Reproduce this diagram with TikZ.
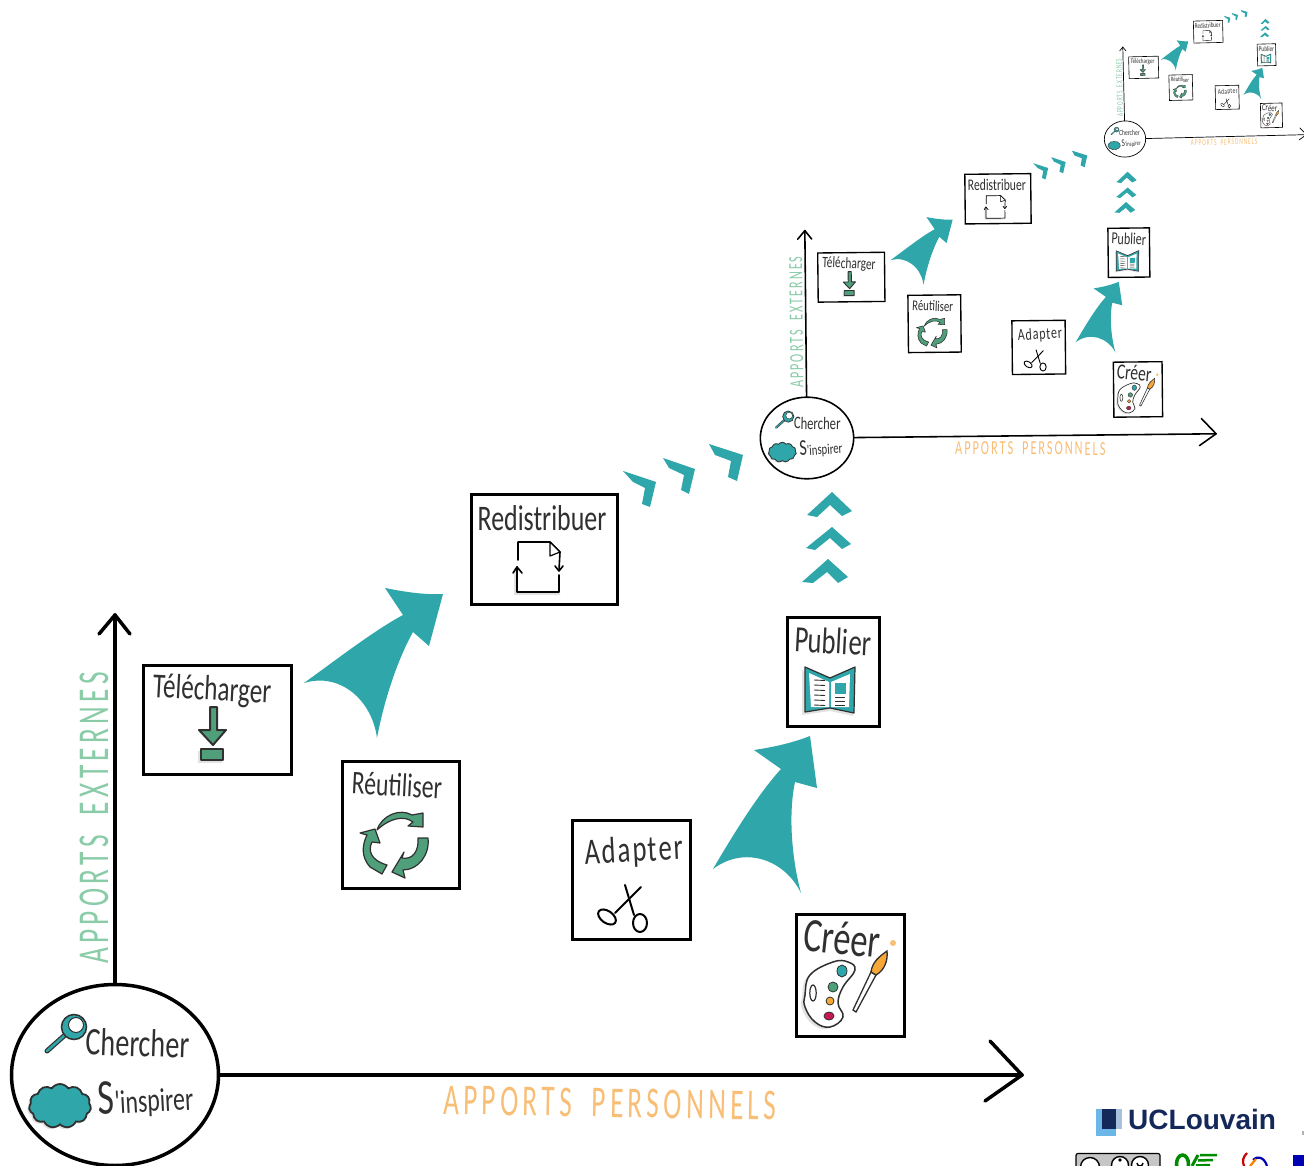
\documentclass[tikz,border=0pt]{standalone}
\usepackage{fontspec}
\usetikzlibrary{shapes.geometric,shapes.symbols}
\newfontfamily\hand[FakeStretch=0.72]{Carlito}
\newfontfamily\handwide[FakeStretch=0.62,LetterSpace=10]{Carlito}
\newfontfamily\logofont{Liberation Sans}
\definecolor{ink}{HTML}{303030}
\definecolor{tealA}{HTML}{2FA6A9}
\definecolor{greenA}{HTML}{4F9F7B}
\definecolor{labgreen}{HTML}{8ACBA8}
\definecolor{laborange}{HTML}{F9BE75}
\definecolor{orangeA}{HTML}{F6A735}
\definecolor{redA}{HTML}{C8184E}
\definecolor{navy}{HTML}{14285A}
\definecolor{shadowgray}{HTML}{E2E2E2}
\definecolor{logolight}{HTML}{6CB6E8}
\definecolor{logopale}{HTML}{A8BFDD}
\tikzset{
  ln/.style={line width={#1*\lvls pt}},
  boxnode/.style={draw=black,fill=white,rectangle,ln=3,inner sep=0,transform shape},
  lbl/.style={font=\hand\fontsize{#1}{#1}\selectfont,text=ink,inner sep=0,transform shape},
  axlbl/.style={font=\handwide\fontsize{44}{44}\selectfont,inner sep=0,transform shape},
  axisline/.style={draw=black,ln=3.5,line cap=round,line join=round},
  bigteal/.style={fill=tealA,draw=none},
  iconline/.style={draw=ink,ln=2,line join=round},
  thinline/.style={draw=black,ln=1.6,line cap=round,line join=round},
}
\newcommand{\DrawLevel}[5]{%
  \pgfmathsetmacro\lvls{#4}%
  \pgfmathsetmacro\lvldx{#2-115*#4}%
  \pgfmathsetmacro\lvldy{#3-1075*#4}%
  \begin{scope}[shift={(\lvldx,\lvldy)},scale=#4,rotate around={#5:(115,1075)}]
    % hub and axes
    \coordinate (#1ytip) at (115,615);
    \coordinate (#1xtip) at (1022,1075);
    \node[ellipse,draw=black,fill=white,ln=3.5,minimum width=207,minimum height=181,inner sep=0,transform shape] (#1hub) at (115,1075) {};
    \draw[axisline] (#1hub.north) -- (#1ytip);
    \draw[axisline] (#1hub.east) -- (#1xtip);
    \draw[axisline] (99,634) -- (#1ytip) -- (130,634);
    \draw[axisline] (990,1041) -- (#1xtip) -- (985,1101);
    \node[axlbl,text=labgreen,rotate=90] (#1ylabel) at (94,818) {APPORTS\hspace{0.45em}EXTERNES};
    \node[axlbl,text=laborange,rotate=-1] (#1xlabel) at (610,1103) {APPORTS\hspace{0.45em}PERSONNELS};
    % hub contents
    \draw[draw=ink,ln=5,line cap=round] (47,1051) -- (65,1035);
    \draw[draw=tealA,ln=2.6,line cap=round] (47,1051) -- (65,1035);
    \draw[draw=ink,ln=1.5,fill=tealA] (74,1027) circle (12.5);
    \draw[draw=ink,ln=1,fill=white] (76,1025) circle (7.5);
    \node[lbl=39,rotate=-2] (#1chercher) at (138,1043) {Chercher};
    \node[cloud,cloud puffs=11,cloud puff arc=110,aspect=1.5,fill=shadowgray,minimum width=62,minimum height=44,inner sep=0,transform shape] (#1cloudshade) at (58,1108) {};
    \node[cloud,cloud puffs=11,cloud puff arc=110,aspect=1.5,draw=ink,fill=tealA,ln=1.8,minimum width=62,minimum height=44,inner sep=0,transform shape] (#1cloud) at (60,1106) {};
    \node[lbl=33,rotate=3,anchor=west] (#1inspirer) at (98,1101) {{\fontsize{50}{50}\selectfont S}'inspirer};
    % boxes
    \node[boxnode,minimum width=148,minimum height=109] (#1tele) at (217,719.5) {};
    \node[boxnode,minimum width=117,minimum height=127] (#1reut) at (400.5,824.5) {};
    \node[boxnode,minimum width=146,minimum height=110] (#1redi) at (544,549) {};
    \node[boxnode,minimum width=118,minimum height=119] (#1adap) at (631,879.5) {};
    \node[boxnode,minimum width=92,minimum height=109] (#1publ) at (833,671.5) {};
    \node[boxnode,minimum width=108,minimum height=122] (#1cree) at (850,975) {};
    % box titles
    \node[lbl=35,rotate=-3] (#1teletxt) at (212,691) {Télécharger};
    \node[lbl=33,rotate=-3] (#1reuttxt) at (397,785) {Réutiliser};
    \node[lbl=36,rotate=0] (#1reditxt) at (542,518) {Redistribuer};
    \node[lbl=37,rotate=3] (#1adaptxt) at (634,852) {{\addfontfeature{LetterSpace=5}Adapter}};
    \node[lbl=37,rotate=-3] (#1publtxt) at (833,641) {Publier};
    \node[lbl=48,rotate=-6] (#1creetxt) at (842,938) {Créer};
    % icon: download
    \fill[shadowgray] (198,751) rectangle (222,763);
    \draw[iconline,fill=greenA] (210,707) -- (217,707) -- (217,730) -- (226,730) -- (213,745) -- (199,730) -- (210,730) -- cycle;
    \draw[iconline,fill=greenA] (201,749) rectangle (223,760);
    % icon: recycle
    \draw[iconline,fill=greenA,ln=1.2] (377,830) .. controls (382,815) and (400,808) .. (412,815) -- (423,813) -- (423,827) -- (408,826) -- (413,822) .. controls (404,815) and (390,818) .. (377,830) -- cycle;
    \draw[iconline,fill=greenA,ln=1.2] (387,865) -- (382,874) -- (370,867) .. controls (361,857) and (362,845) .. (367,835) -- (360,833) -- (375,829) -- (380,843) -- (372,842) .. controls (368,850) and (370,860) .. (387,865) -- cycle;
    \draw[iconline,fill=greenA,ln=1.2] (428,838) -- (418,838) .. controls (419,852) and (412,860) .. (402,858) -- (404,852) -- (392,872) -- (405,878) -- (403,870) .. controls (418,870) and (430,855) .. (428,838) -- cycle;
    % icon: redistribute
    \fill[shadowgray] (514,568) rectangle (517,595) (514,592) rectangle (560,595);
    \draw[thinline] (518,560) -- (518,542) -- (550,542) -- (560,552) -- (559,570);
    \draw[thinline] (555,566) -- (559,571) -- (563,566);
    \draw[thinline,fill=white,ln=1.2] (550,542) -- (550,556) -- (560,552) -- cycle;
    \draw[thinline] (559,575) -- (559,592) -- (517,592) -- (517,567);
    \draw[thinline] (513,573) -- (517,567) -- (522,573);
    % icon: scissors
    \draw[thinline,ln=2] (625,885) -- (634,915);
    \draw[thinline,ln=2] (641,887) -- (615,913);
    \draw[thinline,ln=2] (640,923) ellipse (7 and 9);
    \draw[thinline,ln=2,rotate around={-35:(607,917)}] (607,917) ellipse (10 and 6);
    % icon: book
    \fill[shadowgray] (802,670) -- (802,715) -- (830,711) -- (853,716) -- (853,700) -- cycle;
    \draw[iconline,ln=1.2,fill=tealA] (805,667) -- (830,678) -- (855,667) -- (854,713) -- (830,708) -- (805,712) -- cycle;
    \fill[white] (809,673) -- (829,682) -- (829,707) -- (811,707) -- cycle;
    \fill[white] (831,682) -- (850,674) -- (849,707) -- (831,707) -- cycle;
    \fill[tealA] (835,683) rectangle (846,694);
    \foreach \yy in {680,685,690,695,700,705} {\draw[draw=ink,ln=0.9] (814,\yy) -- (825,\yy+0.5);}
    \foreach \yy in {697,701,705} {\draw[draw=ink,ln=0.9] (835,\yy) -- (845,\yy);}
    % icon: palette and brush
    \fill[shadowgray] plot[smooth cycle,tension=0.7] coordinates {(802,997) (807,977) (830,964) (845,964) (852,972) (840,989) (835,1005) (840,1019) (827,1029) (812,1024) (802,1009)};
    \draw[draw=ink,ln=1.5,fill=white] plot[smooth cycle,tension=0.7] coordinates {(805,995) (810,975) (833,962) (848,962) (855,970) (843,987) (838,1003) (843,1017) (830,1027) (815,1022) (805,1007)};
    \draw[draw=ink,ln=1.2] (813,993) ellipse (3.2 and 8);
    \draw[draw=ink,ln=0.8,fill=tealA] (842,971) ellipse (5 and 6);
    \draw[draw=ink,ln=0.8,fill=greenA] (833,987) circle (5);
    \draw[draw=ink,ln=0.8,fill=orangeA] (830,1001) circle (4);
    \draw[draw=ink,ln=0.8,fill=redA] (829,1016) ellipse (5 and 4);
    \draw[draw=ink,ln=1.3,fill=white] (853,1010) -- (856,1012) -- (876,975) -- (871,972) -- cycle;
    \draw[draw=ink,ln=1.3,fill=orangeA] (871,972) .. controls (872,962) and (880,956) .. (887,951) .. controls (888,960) and (885,970) .. (876,975) -- cycle;
    \fill[laborange] (893,943) circle (3);
    % big arrows
    \fill[bigteal] (304,683) .. controls (340,657) and (375,630) .. (403,615) -- (385,588) .. controls (405,592) and (425,595) .. (443,594) -- (429,646) -- (413,632) .. controls (400,655) and (385,695) .. (377,738) .. controls (372,700) and (340,672) .. (304,683) -- cycle;
    \fill[bigteal] (713,869) .. controls (737,828) and (760,792) .. (781,769) -- (754,750) .. controls (775,747) and (795,742) .. (810,736) -- (817,788) -- (795,782) .. controls (788,815) and (792,860) .. (801,893) .. controls (785,860) and (745,845) .. (713,869) -- cycle;
    % chevrons
    \fill[tealA] (623,471) -- (656,482) -- (650,507) -- (642,504) -- (645,488) -- (633,482) -- cycle;
    \fill[tealA] (663,458) -- (695,469) -- (689,494) -- (681,490) -- (684,475) -- (669,468) -- cycle;
    \fill[tealA] (709,444) -- (743,455) -- (737,481) -- (728,477) -- (731,461) -- (715,455) -- cycle;
    \fill[tealA] (807,515) -- (832,492) -- (852,511) -- (842,516) -- (830,505) -- (817,517) -- cycle;
    \fill[tealA] (806,548) -- (832,527) -- (851,544) -- (842,549) -- (830,538) -- (815,550) -- cycle;
    \fill[tealA] (802,582) -- (828,559) -- (848,577) -- (838,583) -- (827,572) -- (813,583) -- cycle;
  \end{scope}
}
\begin{document}
\begin{tikzpicture}[x=1pt,y=-1pt]
  \clip (0,0) rectangle (1304,1166);
  \fill[white] (0,0) rectangle (1304,1166);
  \DrawLevel{c}{1125}{139}{0.2}{1.4}
  \DrawLevel{b}{807}{438}{0.451}{0.6}
  \DrawLevel{a}{115}{1075}{1}{0}
  % logos
  \def\lvls{1}
  \fill[logolight] (1096,1109) rectangle (1116,1136);
  \fill[logopale] (1116,1109) rectangle (1122,1129);
  \fill[navy] (1102,1109) rectangle (1116,1129);
  \node[font=\logofont\bfseries\fontsize{28}{28}\selectfont,text=navy,inner sep=0,anchor=west] (uclogo) at (1128,1119) {UCLouvain};
  \draw[draw=black,ln=1.2,fill=gray!45,rounded corners=2] (1076,1153.5) rectangle (1160,1180);
  \draw[draw=black,ln=1.4,fill=white] (1090,1167) circle (9.5);
  \draw[draw=black,ln=1.4,fill=white] (1120,1165) circle (8.5);
  \draw[draw=black,ln=1.4,fill=white] (1140,1165) circle (8.5);
  \fill[black] (1120,1160) circle (1.8);
  \draw[draw=black,ln=1.4] (1137,1163) arc (180:0:3);
  \draw[draw=green!55!black,ln=3.5] (1182.5,1164) ellipse (6 and 9);
  \draw[draw=green!55!black,ln=3] (1192,1166) -- (1198,1155);
  \draw[draw=green!55!black,ln=2.5] (1200,1155) -- (1217,1155) (1198,1160.5) -- (1213,1160) (1196,1165.5) -- (1210,1165);
  \draw[draw=red!80!black,ln=2.2] (1247,1153) .. controls (1243,1157) and (1242,1161) .. (1244,1166);
  \draw[draw=blue!70!black,ln=2.2] (1253,1160) .. controls (1256,1156) and (1264,1156) .. (1267,1166);
  \draw[draw=orange,ln=2.2] (1250,1166) -- (1256,1159);
  \fill[blue!70!black] (1293,1155) rectangle (1304,1166);
  \fill[gray!60] (1302,1131) rectangle (1304,1135);
\end{tikzpicture}
\end{document}
